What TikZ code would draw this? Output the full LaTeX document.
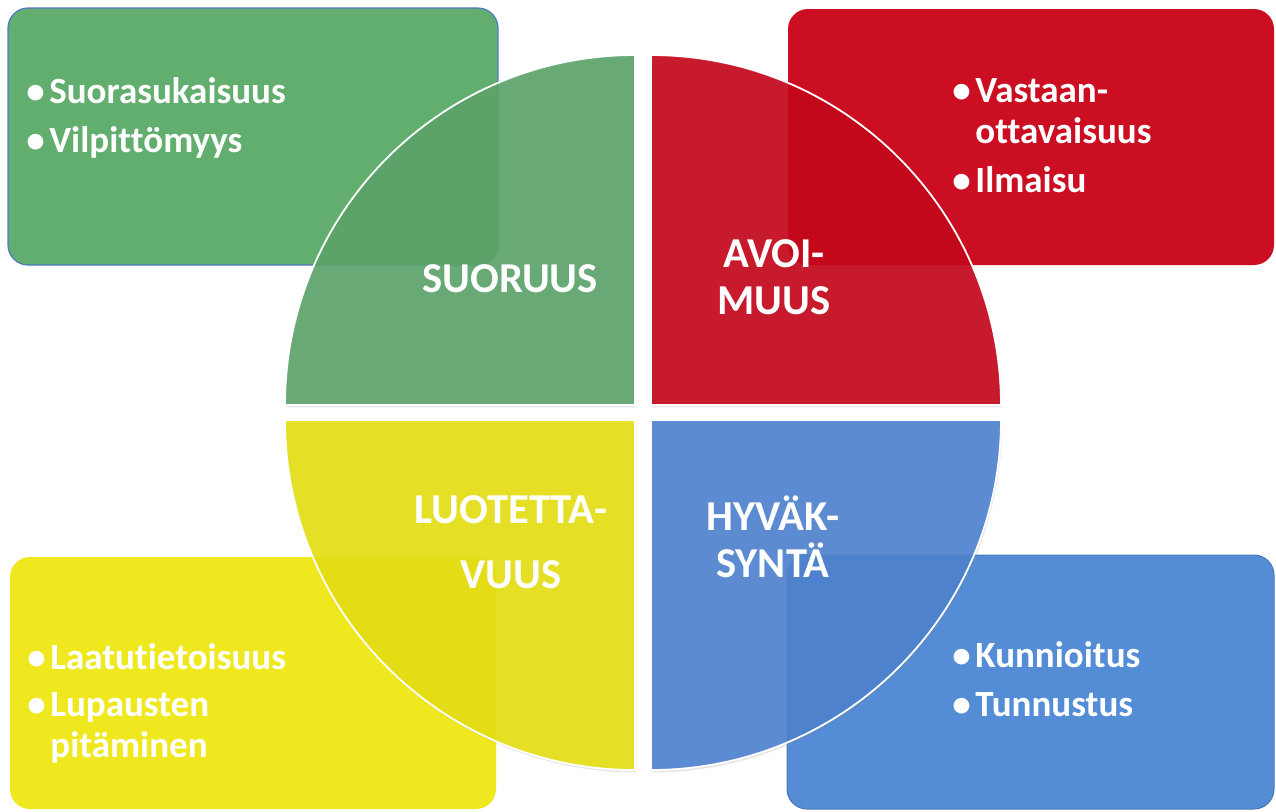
\documentclass[tikz,border=0pt]{standalone}
\usepackage{fontspec}
\setmainfont{Carlito}[Ligatures=NoCommon]
\usepackage{tikz}
\usetikzlibrary{shadows}

\definecolor{boxgreen}{HTML}{62AE6F}
\definecolor{boxred}{HTML}{CC0E22}
\definecolor{boxyellow}{HTML}{F0E81F}
\definecolor{boxblue}{HTML}{548DD5}
\definecolor{quadgreen}{HTML}{5BA36A}
\definecolor{quadred}{HTML}{C50519}
\definecolor{quadyellow}{HTML}{E6DF12}
\definecolor{quadblue}{HTML}{4D82CF}
\definecolor{edgeblue}{HTML}{4F7BC0}

\newcommand{\listdot}{\makebox[11.5pt][l]{\textbullet}}

\begin{document}
\begin{tikzpicture}[x=0.5pt, y=-0.5pt,
    box/.style={rounded corners=10pt},
    quarter/.style={fill opacity=0.9, draw=white, line width=0.9pt,
      drop shadow={opacity=0.2, shadow xshift=0.6pt, shadow yshift=-1.2pt}},
    head/.style={text=white, inner sep=0pt, anchor=base, align=center,
      font=\fontsize{21.3}{23.5}\selectfont\bfseries},
    items/.style={text=white, inner sep=0pt, anchor=base west, align=left,
      font=\fontsize{18.5}{20.5}\selectfont\bfseries}]
    
    \useasboundingbox (0,0) rectangle (1276,811);
    
    \coordinate (cg) at (635,405);
    \coordinate (cr) at (651,405);
    \coordinate (cy) at (635,420);
    \coordinate (cb) at (651,420);
    
    \path[box, fill=boxgreen, draw=edgeblue, line width=0.6pt] (8,8) rectangle (498,265);
    \path[box, fill=boxred] (788,9) rectangle (1274,265);
    \path[box, fill=boxyellow] (10,557) rectangle (496,809);
    \path[box, fill=boxblue, draw=boxblue!85!black, line width=0.5pt] (787,555) rectangle (1274,809);
    
    \path[quarter, fill=quadgreen] (cg) -- ++(-350,0) arc[start angle=180, end angle=270, radius=350] -- cycle;
    \path[quarter, fill=quadred] (cr) -- ++(350,0) arc[start angle=0, end angle=-90, radius=350] -- cycle;
    \path[quarter, fill=quadyellow] (cy) -- ++(-350,0) arc[start angle=180, end angle=90, radius=350] -- cycle;
    \path[quarter, fill=quadblue] (cb) -- ++(350,0) arc[start angle=0, end angle=90, radius=350] -- cycle;
    
    % base anchor sits on the last line
    \node[items] (listg) at (26,152) {\listdot Suorasukaisuus\\[4pt]\listdot Vilpittömyys};
    \node[items] (listr) at (952,192) {\listdot Vastaan-\\\hspace*{11.5pt}ottavaisuus\\[4pt]\listdot Ilmaisu};
    \node[items] (listy) at (27,757) {\listdot Laatutietoisuus\\[3pt]\listdot Lupausten\\\hspace*{11.5pt}pitäminen};
    \node[items] (listb) at (952,716) {\listdot Kunnioitus\\[4pt]\listdot Tunnustus};
    
    \node[head] (suoruus) at (510,292) {SUORUUS};
    \node[head] (avoimuus) at (774,314) {AVOI-\\MUUS};
    \node[head] (luotettavuus) at (511,588) {LUOTETTA-\\[9pt]VUUS};
    \node[head] (hyvaksynta) at (773,577) {HYVÄK-\\SYNTÄ};
    
\end{tikzpicture}
\end{document}
